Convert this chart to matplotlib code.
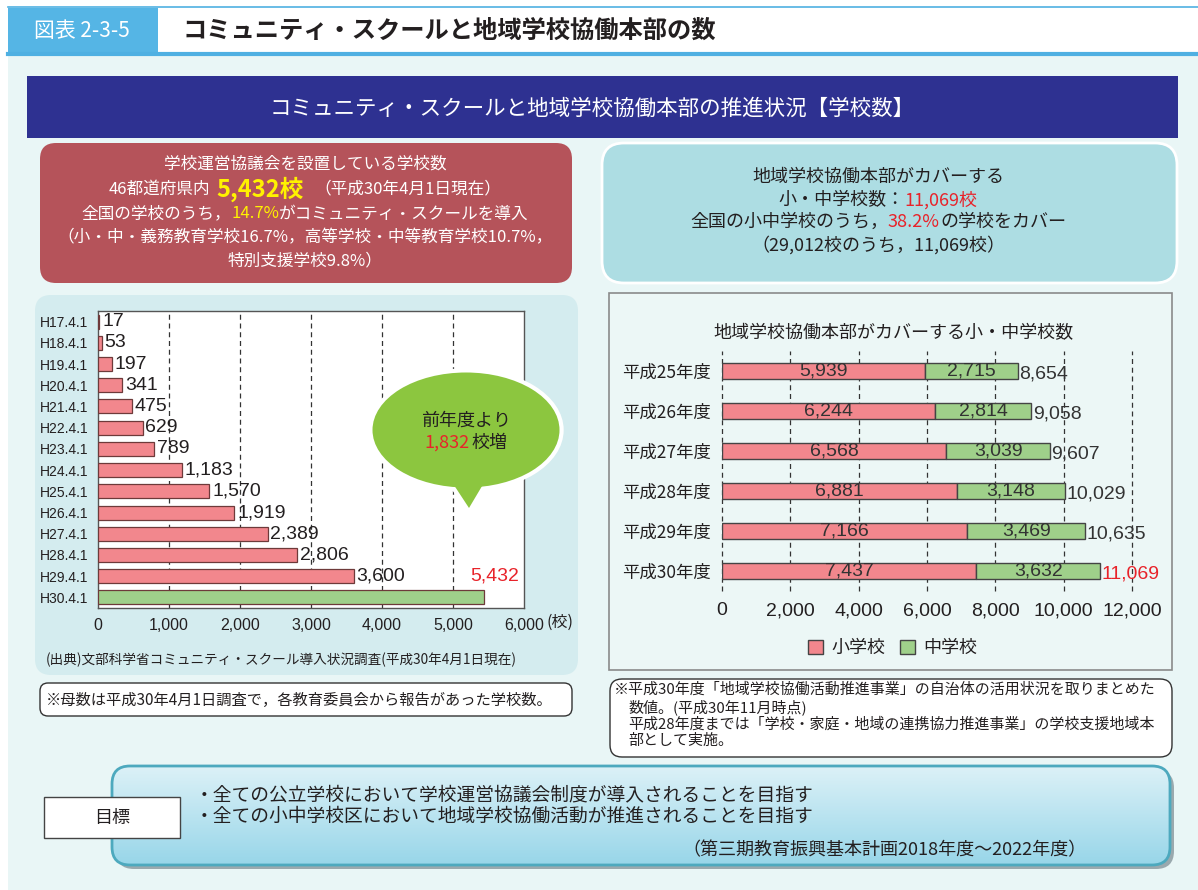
import numpy as np
import matplotlib
matplotlib.use("Agg")
import matplotlib.pyplot as plt
import matplotlib.patches as mpatches
from matplotlib.patches import FancyBboxPatch, Rectangle, Ellipse, Polygon
from matplotlib.colors import LinearSegmentedColormap

plt.rcParams['font.family'] = ['Noto Sans CJK JP', 'DejaVu Sans']
NUM = ['Liberation Sans', 'Noto Sans CJK JP']

# --- data -------------------------------------------------------------
cs_dates = ['H17.4.1', 'H18.4.1', 'H19.4.1', 'H20.4.1', 'H21.4.1', 'H22.4.1', 'H23.4.1',
            'H24.4.1', 'H25.4.1', 'H26.4.1', 'H27.4.1', 'H28.4.1', 'H29.4.1', 'H30.4.1']
cs_counts = [17, 53, 197, 341, 475, 629, 789, 1183, 1570, 1919, 2389, 2806, 3600, 5432]
cs_ticks = [0, 1000, 2000, 3000, 4000, 5000, 6000]

hq_years = ['平成25年度', '平成26年度', '平成27年度', '平成28年度', '平成29年度', '平成30年度']
hq_elem = [5939, 6244, 6568, 6881, 7166, 7437]
hq_junior = [2715, 2814, 3039, 3148, 3469, 3632]
hq_ticks = [0, 2000, 4000, 6000, 8000, 10000, 12000]

TXT = '#231F20'
RED = '#E8232A'
PINK = '#F2878D'
GREEN = '#9FD08A'

W, H = 1198, 890
fig = plt.figure(figsize=(W / 100, H / 100), dpi=100)
fig.patch.set_facecolor('white')
renderer = fig.canvas.get_renderer()

# background / overlay axes in pixel coordinates
bg = fig.add_axes([0, 0, 1, 1], zorder=0)
bg.set_xlim(0, W)
bg.set_ylim(H, 0)
bg.axis('off')
fg = fig.add_axes([0, 0, 1, 1], zorder=5)
fg.set_xlim(0, W)
fg.set_ylim(H, 0)
fg.axis('off')
fg.patch.set_alpha(0)


def rbox(ax, x0, y0, x1, y1, fc, ec='none', lw=1.0, r=14, z=1):
    p = FancyBboxPatch((x0, y0), x1 - x0, y1 - y0,
                       boxstyle=f"round,pad=0,rounding_size={r}",
                       fc=fc, ec=ec, lw=lw, zorder=z)
    ax.add_patch(p)
    return p


def rich(ax, x, y, parts, size=12, ha='center'):
    # parts: (text, color, weight, fontsize, gap_before)
    items = []
    total = 0
    for s, c, wgt, fs, gap in parts:
        t = ax.text(0, y, s, color=c, fontweight=wgt, fontsize=fs or size,
                    ha='left', va='center', zorder=10)
        w = t.get_window_extent(renderer=renderer).width
        items.append((t, w, gap))
        total += w + gap
    xs = x - total / 2 if ha == 'center' else x
    for t, w, gap in items:
        xs += gap
        t.set_x(xs)
        xs += w


# header
bg.add_patch(Rectangle((8, 55), W - 8, H - 55, fc='#E9F6F6', ec='none', zorder=0))
bg.plot([8, W], [7, 7], color='#4FB0E2', lw=1.2)
bg.add_patch(Rectangle((8, 8), 150, 45, fc='#55B5E5', ec='none'))
bg.plot([8, W], [53.5, 53.5], color='#4FB0E2', lw=3)
bg.text(82, 31, '図表 2-3-5', color='white', fontsize=15, ha='center', va='center')
bg.text(183, 31, 'コミュニティ・スクールと地域学校協働本部の数', color=TXT,
        fontsize=17.5, fontweight='bold', ha='left', va='center')

# banner
bg.add_patch(Rectangle((27, 76), 1151, 62, fc='#2E3191', ec='none'))
bg.text(592, 109, 'コミュニティ・スクールと地域学校協働本部の推進状況【学校数】',
        color='white', fontsize=15.5, ha='center', va='center')

# red summary box
rbox(bg, 40, 143, 572, 283, '#B5535A', r=16)
bg.text(305, 164, '学校運営協議会を設置している学校数', color='white', fontsize=12, ha='center', va='center')
rich(bg, 305, 189, [('46都道府県内', 'white', 'normal', 12, 0),
                    ('5,432校', '#FFF200', 'bold', 17, 6),
                    ('（平成30年4月1日現在）', 'white', 'normal', 12, 10)])
rich(bg, 305, 214, [('全国の学校のうち，', 'white', 'normal', 12, 0),
                    ('14.7%', '#FFF200', 'normal', 12, 0),
                    ('がコミュニティ・スクールを導入', 'white', 'normal', 12, 0)])
bg.text(305, 238, '（小・中・義務教育学校16.7%，高等学校・中等教育学校10.7%，', color='white',
        fontsize=12, ha='center', va='center')
bg.text(305, 261, '特別支援学校9.8%）', color='white', fontsize=12, ha='center', va='center')

# teal summary box
rbox(bg, 602, 143, 1177, 283, '#ADDDE3', ec='white', lw=2, r=22)
bg.text(878, 177, '地域学校協働本部がカバーする', color=TXT, fontsize=13, ha='center', va='center')
rich(bg, 878, 200, [('小・中学校数：', TXT, 'normal', 13, 0),
                    ('11,069校', RED, 'normal', 13, 0)])
rich(bg, 878, 222, [('全国の小中学校のうち，', TXT, 'normal', 13, 0),
                    ('38.2%', RED, 'normal', 13, 0),
                    ('の学校をカバー', TXT, 'normal', 13, 0)])
bg.text(878, 245, '（29,012校のうち，11,069校）', color=TXT, fontsize=13, ha='center', va='center')

# left panel
rbox(bg, 35, 295, 578, 675, '#D4ECEF', r=16)
bg.text(46, 660, '(出典)文部科学省コミュニティ・スクール導入状況調査(平成30年4月1日現在)',
        color=TXT, fontsize=9.8, ha='left', va='center')
rbox(bg, 40, 683, 572, 716, 'white', ec='#333333', lw=1, r=8)
bg.text(46, 700, '※母数は平成30年4月1日調査で，各教育委員会から報告があった学校数。',
        color=TXT, fontsize=11, ha='left', va='center')

# right panel
bg.add_patch(Rectangle((609, 293), 563, 377, fc='#ECF7F6', ec='#8A8A8A', lw=1.2))
bg.text(893, 333, '地域学校協働本部がカバーする小・中学校数', color=TXT, fontsize=13,
        ha='center', va='center')
rbox(bg, 610, 679, 1172, 757, 'white', ec='#333333', lw=1, r=12)
bg.text(614, 690, '※平成30年度「地域学校協働活動推進事業」の自治体の活用状況を取りまとめた',
        color=TXT, fontsize=10.8, ha='left', va='center')
bg.text(628, 707, '数値。(平成30年11月時点)', color=TXT, fontsize=10.8, ha='left', va='center')
bg.text(628, 724, '平成28年度までは「学校・家庭・地域の連携協力推進事業」の学校支援地域本',
        color=TXT, fontsize=10.8, ha='left', va='center')
bg.text(628, 741, '部として実施。', color=TXT, fontsize=10.8, ha='left', va='center')

# goal box with gradient
rbox(bg, 116, 770, 1174, 869, '#9AA9AE', r=18, z=1)
goal = rbox(bg, 112, 766, 1170, 865, 'none', ec='#4DA9BE', lw=2, r=18, z=3)
cmap = LinearSegmentedColormap.from_list('g', ['#DCF1F7', '#98D6E9'])
grad = np.linspace(0, 1, 100).reshape(-1, 1)
im = bg.imshow(grad, cmap=cmap, extent=(112, 1170, 865, 766), aspect='auto', zorder=2)
im.set_clip_path(goal)
bg.set_xlim(0, W)
bg.set_ylim(H, 0)
bg.text(195, 795, '・全ての公立学校において学校運営協議会制度が導入されることを目指す',
        color=TXT, fontsize=13.5, ha='left', va='center', zorder=5)
bg.text(195, 816, '・全ての小中学校区において地域学校協働活動が推進されることを目指す',
        color=TXT, fontsize=13.5, ha='left', va='center', zorder=5)
bg.text(1087, 850, '（第三期教育振興基本計画2018年度～2022年度）',
        color=TXT, fontsize=13, ha='right', va='center', zorder=5)
bg.add_patch(Rectangle((44, 797), 136, 41, fc='white', ec='#444444', lw=1, zorder=6))
bg.text(112, 818, '目標', color=TXT, fontsize=13, ha='center', va='center', zorder=7)

# --- left chart: community schools -------------------------------------
ax1 = fig.add_axes([98 / W, 1 - 608 / H, (524 - 98) / W, (608 - 311) / H], zorder=2)
ypos = np.arange(len(cs_dates))
colors = [PINK] * (len(cs_counts) - 1) + [GREEN]
ax1.barh(ypos, cs_counts, height=0.66, color=colors, edgecolor='#6E3A3A', lw=0.9, zorder=3)
ax1.set_xlim(0, 6000)
ax1.set_ylim(len(cs_dates) - 0.5, -0.5)
ax1.set_facecolor('white')
for v in cs_ticks[1:-1]:
    ax1.axvline(v, color='#333333', lw=0.9, ls=(0, (4, 3)), zorder=1)
for sp in ax1.spines.values():
    sp.set_color('#555555')
    sp.set_linewidth(1)
ax1.set_yticks(ypos)
ax1.set_yticklabels(cs_dates, fontsize=10, color=TXT, family=NUM)
ax1.set_xticks(cs_ticks)
ax1.set_xticklabels([f'{v:,}' for v in cs_ticks], fontsize=11.5, color=TXT, family=NUM)
ax1.tick_params(length=0, pad=7)
for i, v in enumerate(cs_counts[:-1]):
    ax1.text(v + 40, i, f'{v:,}', color=TXT, fontsize=14, family=NUM,
             ha='left', va='center', zorder=4)
ax1.text(cs_counts[-1] + 150, len(cs_counts) - 2, f'{cs_counts[-1]:,}', color=RED,
         fontsize=14, family=NUM, ha='center', va='center', zorder=4)
bg.text(560, 622, '(校)', color=TXT, fontsize=11.5, ha='center', va='center', zorder=5)

# speech bubble
ell_o = Ellipse((466, 430), 187, 115, fc='white', ec='white', lw=6, zorder=1)
tail_o = Polygon([(448, 476), (488, 476), (469, 508)], closed=True, fc='white', ec='white', lw=6, zorder=1)
ell = Ellipse((466, 430), 187, 115, fc='#8CC63F', ec='none', zorder=2)
tail = Polygon([(448, 476), (488, 476), (469, 508)], closed=True, fc='#8CC63F', ec='none', zorder=2)
for p in (ell_o, tail_o, ell, tail):
    fg.add_patch(p)
fg.text(466, 421, '前年度より', color=TXT, fontsize=13, ha='center', va='center', zorder=3)
rich(fg, 466, 443, [(f'{cs_counts[-1] - cs_counts[-2]:,}', RED, 'normal', 13, 0),
                    ('校増', TXT, 'normal', 13, 2)])

# --- right chart: headquarters coverage --------------------------------
ax2 = fig.add_axes([722 / W, 1 - 591 / H, (1132 - 722) / W, (591 - 351) / H], zorder=2)
ax2.patch.set_alpha(0)
hpos = np.arange(len(hq_years))
ax2.barh(hpos, hq_elem, height=0.4, color=PINK, edgecolor='#444444', lw=1, zorder=3, label='小学校')
ax2.barh(hpos, hq_junior, left=hq_elem, height=0.4, color=GREEN, edgecolor='#444444', lw=1,
         zorder=3, label='中学校')
ax2.set_xlim(0, 12000)
ax2.set_ylim(len(hq_years) - 0.5, -0.5)
for v in hq_ticks:
    ax2.axvline(v, color='#333333', lw=0.9, ls=(0, (4, 3)), zorder=1, clip_on=False)
for sp in ax2.spines.values():
    sp.set_visible(False)
ax2.set_yticks(hpos)
ax2.set_yticklabels(hq_years, fontsize=12.5, color=TXT)
ax2.set_xticks(hq_ticks)
ax2.set_xticklabels([f'{v:,}' for v in hq_ticks], fontsize=14, color=TXT, family=NUM)
ax2.tick_params(length=0)
ax2.tick_params(axis='x', pad=8)
ax2.tick_params(axis='y', pad=8)
for i in range(len(hq_years)):
    e, j = hq_elem[i], hq_junior[i]
    ax2.text(e / 2, i, f'{e:,}', color='#333333', fontsize=14, family=NUM,
             ha='center', va='center', zorder=4)
    ax2.text(e + j / 2, i, f'{j:,}', color='#333333', fontsize=14, family=NUM,
             ha='center', va='center', zorder=4)
    last = i == len(hq_years) - 1
    ax2.text(e + j + 40, i + 0.07, f'{e + j:,}', color=RED if last else '#333333',
             fontsize=14, family=NUM, ha='left', va='center', zorder=4)

handles = [mpatches.Patch(fc=PINK, ec='#444444', label='小学校'),
           mpatches.Patch(fc=GREEN, ec='#444444', label='中学校')]
ax2.legend(handles=handles, ncol=2, frameon=False, loc='center',
           bbox_to_anchor=(893 / W, 1 - 648 / H), bbox_transform=fig.transFigure,
           fontsize=13, handlelength=0.8, handleheight=0.8, handletextpad=0.5,
           columnspacing=0.8, labelcolor=TXT)

fig.savefig('out.png', dpi=100, facecolor='white')
